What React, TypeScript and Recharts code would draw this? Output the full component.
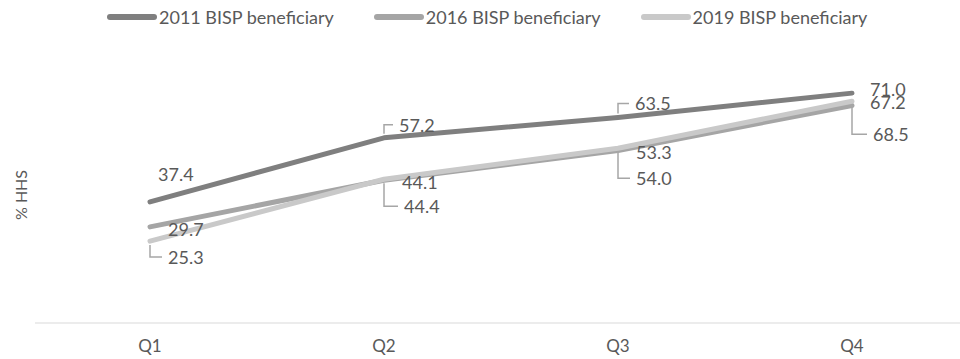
import { LineChart, Line, XAxis, YAxis, LabelList } from 'recharts'

const categories = ['Q1', 'Q2', 'Q3', 'Q4']
const values2011 = [37.4, 57.2, 63.5, 71.0]
const values2016 = [29.7, 44.1, 53.3, 67.2]
const values2019 = [25.3, 44.4, 54.0, 68.5]
const seriesNames = ['2011 BISP beneficiary', '2016 BISP beneficiary', '2019 BISP beneficiary']

const data = categories.map((q, i) => ({
  q,
  s2011: values2011[i],
  s2016: values2016[i],
  s2019: values2019[i]
}))

const FONT = 'Lato, "Open Sans", sans-serif'
const TEXT = '#595959'
const LEADER = '#a6a6a6'
const colors = ['#7f7f7f', '#a5a5a5', '#c9c9c9']
const keys = ['s2011', 's2016', 's2019']

// label placement per point: offset of text start / middle from the point, leader yes/no
type Off = { dx: number; dy: number; leader?: boolean }
const labelOffsets: Off[][] = [
  [{ dx: 8, dy: -28 }, { dx: 15, dy: -13, leader: true }, { dx: 17, dy: -14, leader: true }, { dx: 18, dy: -4 }],
  [{ dx: 18, dy: 2 }, { dx: 18, dy: 2 }, { dx: 18, dy: 2 }, { dx: 18, dy: -3 }],
  [{ dx: 18, dy: 16, leader: true }, { dx: 20, dy: 27, leader: true }, { dx: 18, dy: 30, leader: true }, { dx: 21, dy: 33, leader: true }]
]

const makeLabel = (s: number) => (props: any) => {
  const { x, y, value, index } = props
  const o = labelOffsets[s][index]
  const ty = y + o.dy
  const tx = x + o.dx
  return (
    <g key={`lbl-${s}-${index}`}>
      {o.leader && (
        <polyline
          points={`${x},${y + (o.dy < 0 ? -4 : 4)} ${x},${ty} ${tx - 6},${ty}`}
          fill="none"
          stroke={LEADER}
          strokeWidth={1.5}
        />
      )}
      <text x={tx} y={ty} dominantBaseline="central" fontFamily={FONT} fontSize={18} fill={TEXT}>
        {Number(value).toFixed(1)}
      </text>
    </g>
  )
}

export default function App() {
  return (
    <div style={{ position: 'absolute', left: 0, top: 0, width: 960, height: 359, background: '#fff' }}>
      <div
        style={{
          position: 'absolute',
          top: 6,
          left: 107,
          display: 'flex',
          alignItems: 'center',
          fontFamily: FONT,
          fontSize: 18,
          color: TEXT
        }}
      >
        {seriesNames.map((n, i) => (
          <div key={n} style={{ display: 'flex', alignItems: 'center', marginRight: 40 }}>
            <span
              style={{
                display: 'inline-block',
                width: 50,
                height: 6,
                borderRadius: 3,
                background: colors[i],
                marginRight: 2
              }}
            />
            <span>{n}</span>
          </div>
        ))}
      </div>
      <div
        style={{
          position: 'absolute',
          left: 20,
          top: 195,
          transform: 'translate(-50%, -50%) rotate(-90deg)',
          fontFamily: FONT,
          fontSize: 16,
          color: TEXT,
          whiteSpace: 'nowrap'
        }}
      >
        % HHS
      </div>
      <LineChart width={960} height={359} data={data} margin={{ top: 64, right: 0, bottom: 0, left: 0 }}>
        <XAxis
          dataKey="q"
          height={36}
          padding={{ left: 115, right: 108 }}
          axisLine={{ stroke: '#d9d9d9', strokeWidth: 1 }}
          tickLine={false}
          tickSize={0}
          tickMargin={17}
          tick={{ fill: TEXT, fontFamily: FONT, fontSize: 17 }}
        />
        <YAxis width={35} domain={[0, 80]} tick={false} axisLine={false} tickLine={false} />
        {keys.map((k, i) => (
          <Line
            key={k}
            dataKey={k}
            name={seriesNames[i]}
            stroke={colors[i]}
            strokeWidth={5}
            strokeLinecap="round"
            strokeLinejoin="round"
            dot={false}
            activeDot={false}
            isAnimationActive={false}
          >
            <LabelList dataKey={k} content={makeLabel(i)} />
          </Line>
        ))}
      </LineChart>
    </div>
  )
}
